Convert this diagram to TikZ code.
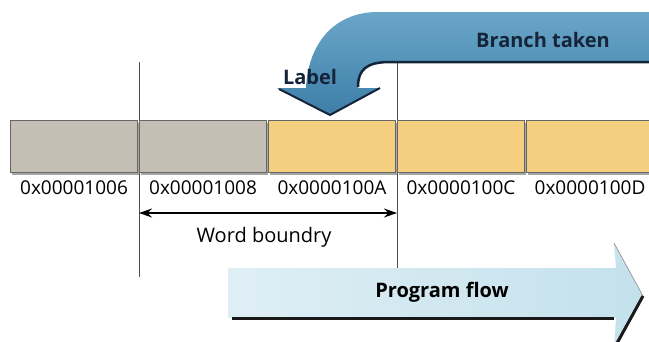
\documentclass[tikz,border=0pt]{standalone}
\usepackage{fontspec}
\setmainfont{Open Sans}
\usepackage{tikz}
\usetikzlibrary{arrows.meta,shadows}

\definecolor{cellgrey}{HTML}{C5BEB5}
\definecolor{cellyellow}{HTML}{F3CF7F}
\definecolor{branchtop}{HTML}{6AA6C8}
\definecolor{branchbot}{HTML}{3D7EA8}
\definecolor{flowblue}{HTML}{C4E1EC}
\definecolor{navytext}{HTML}{16243A}

\tikzset{
    cell/.style={draw=black!60, line width=0.8pt, minimum width=127pt, minimum height=52pt,
        inner sep=0pt, drop shadow={shadow xshift=1pt, shadow yshift=-3pt, opacity=0.7}},
    addr/.style={font=\fontsize{19}{22}\selectfont, inner sep=1pt},
    bigtag/.style={font=\fontsize{20}{24}\selectfont\bfseries},
}

\begin{document}
\begin{tikzpicture}[x=1pt, y=-1pt]
\useasboundingbox (0,0) rectangle (649,341);
\clip (0,0) rectangle (649,341);

% Boundary lines
\coordinate (t1) at (139,62);
\coordinate (t2) at (397,62);
\coordinate (u1) at (139,277);
\coordinate (u2) at (397,277);
\draw[black!70, line width=0.6pt] (t1) -- (u1);
\draw[black!70, line width=0.6pt] (t2) -- (u2);

% Memory cells and addresses
\foreach \i/\c/\a in {0/cellgrey/0x00001006,1/cellgrey/0x00001008,2/cellyellow/0x0000100A,
                      3/cellyellow/0x0000100C,4/cellyellow/0x0000100D} {
    \node[cell, fill=\c] (c\i) at (74+129*\i,146) {};
    \node[addr] (a\i) at (74+129*\i,188) {\a};
}

% Word boundary
\coordinate (wl) at (139,213);
\coordinate (wr) at (397,213);
\draw[{Stealth[length=13pt,width=9pt]}-{Stealth[length=13pt,width=9pt]}, line width=1.2pt] (wl) -- (wr);
\node[font=\fontsize{20}{24}\selectfont] (word) at (264,237) {Word boundry};

% Program flow arrow
\shade[left color=flowblue!55, right color=flowblue]
    (228,268) -- (616,268) -- (614,243) -- (643,296) -- (614,350) -- (616,318) -- (228,318) -- cycle;
\draw[black!45, line width=0.6pt] (614,243) -- (643,296);
\draw[black!90, line width=3pt] (232,318) -- (614,318);
\draw[black!90, line width=3pt] (643,296) -- (616,345);
\node[bigtag] (flow) at (442,292) {Program flow};

% Branch taken arrow
\shade[top color=branchtop, bottom color=branchbot]
    (660,12) -- (378,12) .. controls (333,12) and (308,45) .. (306,88)
    -- (277,88) -- (330,115) -- (380,88) -- (358,88)
    .. controls (358,70) and (366,62) .. (390,62) -- (660,62) -- cycle;
\draw[navytext, line width=2.5pt] (660,62) -- (390,62) .. controls (366,62) and (358,70) .. (358,87);
\draw[navytext, line width=2pt] (380,88) -- (330,115) -- (279,89);
\node[bigtag, text=navytext] (taken) at (543,40) {Branch taken};
\node[bigtag, text=navytext] (lbl) at (310,77) {Label};
\end{tikzpicture}
\end{document}
